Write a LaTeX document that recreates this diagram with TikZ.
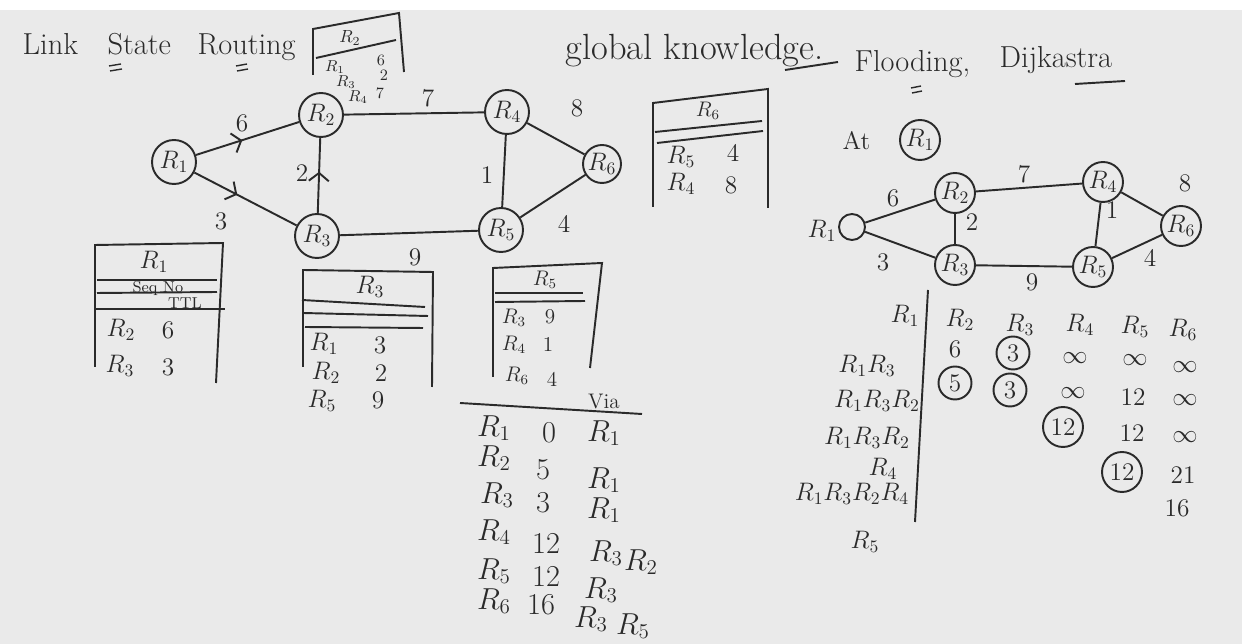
\documentclass[tikz,border=0pt]{standalone}
\usetikzlibrary{arrows.meta, decorations.markings}
\definecolor{ink}{HTML}{2A2A2A}
\definecolor{board}{HTML}{EAEAEA}

\begin{document}
\begin{tikzpicture}[
    x=0.02cm, y=-0.02cm,
    line width=1.1pt,
    wire/.style={draw=ink},
    router/.style={circle, draw=ink, minimum size=0.88cm, inner sep=0pt, text=ink, font=\Large},
    hand/.style={text=ink, inner sep=1pt, font=\Large},
    tiny/.style={text=ink, inner sep=1pt, font=\normalsize},
    ring/.style={circle, draw=ink, minimum size=0.66cm, inner sep=1pt, text=ink, font=\Large},
    midarrow/.style={postaction={decorate}, decoration={markings,
        mark=at position #1 with {\arrow{Straight Barb[length=1.6mm, width=4mm]}}}}
  ]

  % board
  \useasboundingbox (0,0) rectangle (1242,644);
  \fill[white] (0,0) rectangle (1242,10);
  \fill[board] (0,10) rectangle (1242,644);

  % title
  \node[hand, font=\LARGE, anchor=base west] (link) at (20,55) {Link};
  \node[hand, font=\LARGE, anchor=base west] (state) at (105,55) {State};
  \node[hand, font=\LARGE, anchor=base west] (routing) at (195,55) {Routing};
  \draw[wire, line width=0.8pt] (109,66) -- (121,64) (110,71) -- (122,69);
  \draw[wire, line width=0.8pt] (236,66) -- (247,64) (237,71) -- (248,69);

  % table of R2
  \draw[wire] (313,75) -- (313,29) -- (399,13) -- (404,72);
  \draw[wire] (316,58) -- (396,40);
  \node[tiny] (t2h) at (350,38) {$R_2$};
  \node[tiny, font=\small] (t2a) at (335,67) {$R_1$};
  \node[tiny, font=\small] (t2av) at (381,60) {6};
  \node[tiny, font=\small] (t2b) at (346,82) {$R_3$};
  \node[tiny, font=\small] (t2bv) at (384,75) {2};
  \node[tiny, font=\small] (t2c) at (358,97) {$R_4$};
  \node[tiny, font=\small] (t2cv) at (380,93) {7};

  % routers
  \node[router] (r1) at (174,162) {$R_1$};
  \node[router] (r2) at (321,115) {$R_2$};
  \node[router] (r3) at (317,236) {$R_3$};
  \node[router] (r4) at (507,112) {$R_4$};
  \node[router] (r5) at (501,230) {$R_5$};
  \node[router, minimum size=0.76cm] (r6) at (602,164) {$R_6$};

  % links
  \draw[wire, midarrow=0.45] (r1) -- (r2);
  \draw[wire, midarrow=0.42] (r1) -- (r3);
  \draw[wire, midarrow=0.55] (r3) -- (r2);
  \draw[wire] (r2) -- (r4);
  \draw[wire] (r4) -- (r5);
  \draw[wire] (r4) -- (r6);
  \draw[wire] (r5) -- (r6);
  \draw[wire] (r3) -- (r5);

  % costs
  \node[hand] (w12) at (242,123) {6};
  \node[hand] (w13) at (221,221) {3};
  \node[hand] (w32) at (302,173) {2};
  \node[hand] (w24) at (428,98) {7};
  \node[hand] (w45) at (487,175) {1};
  \node[hand] (w46) at (577,108) {8};
  \node[hand] (w56) at (564,224) {4};
  \node[hand] (w35) at (415,257) {9};

  % table of R6
  \draw[wire] (653,207) -- (653,103) -- (768,89) -- (768,208);
  \draw[wire] (655,132) -- (762,121);
  \draw[wire] (657,143) -- (763,131);
  \node[tiny, font=\large] (t6h) at (708,111) {$R_6$};
  \node[hand] (t6a) at (681,157) {$R_5$};
  \node[hand] (t6av) at (733,153) {4};
  \node[hand] (t6b) at (681,184) {$R_4$};
  \node[hand] (t6bv) at (731,185) {8};

  % table of R1
  \draw[wire] (95,367) -- (95,245) -- (223,243) -- (216,383);
  \draw[wire] (97,280) -- (217,280);
  \draw[wire] (97,293) -- (217,292);
  \draw[wire] (95,309) -- (225,309);
  \node[hand] (t1h) at (154,262) {$R_1$};
  \node[tiny, font=\small] (t1s) at (158,288) {Seq No};
  \node[tiny, font=\small] (t1t) at (185,303) {TTL};
  \node[hand] (t1a) at (121,330) {$R_2$};
  \node[hand] (t1av) at (168,330) {6};
  \node[hand] (t1b) at (120,366) {$R_3$};
  \node[hand] (t1bv) at (168,367) {3};

  % table of R3
  \draw[wire] (303,367) -- (303,270) -- (433,272) -- (432,387);
  \draw[wire] (302,300) -- (425,307);
  \draw[wire] (303,313) -- (428,316);
  \draw[wire] (305,327) -- (423,328);
  \node[hand] (t3h) at (370,287) {$R_3$};
  \node[hand] (t3a) at (324,344) {$R_1$};
  \node[hand] (t3av) at (380,345) {3};
  \node[hand] (t3b) at (326,373) {$R_2$};
  \node[hand] (t3bv) at (381,373) {2};
  \node[hand] (t3c) at (322,401) {$R_5$};
  \node[hand] (t3cv) at (378,400) {9};

  % table of R5
  \draw[wire] (493,377) -- (493,268) -- (602,263) -- (590,368);
  \draw[wire] (495,293) -- (583,293);
  \draw[wire] (495,302) -- (585,301);
  \node[tiny, font=\large] (t5h) at (545,280) {$R_5$};
  \node[tiny, font=\large] (t5a) at (514,318) {$R_3$};
  \node[tiny, font=\large] (t5av) at (550,317) {9};
  \node[tiny, font=\large] (t5b) at (514,345) {$R_4$};
  \node[tiny, font=\large] (t5bv) at (548,344) {1};
  \node[tiny, font=\large] (t5c) at (517,376) {$R_6$};
  \node[tiny, font=\large] (t5cv) at (552,379) {4};

  % routing table of R1
  \draw[wire] (460,403) -- (642,414);
  \node[tiny, font=\large] (via) at (604,402) {Via};
  \node[hand, font=\LARGE] (f1) at (494,428) {$R_1$};
  \node[hand, font=\LARGE] (f1c) at (549,433) {0};
  \node[hand, font=\LARGE] (f1v) at (604,433) {$R_1$};
  \node[hand, font=\LARGE] (f2) at (494,458) {$R_2$};
  \node[hand, font=\LARGE] (f2c) at (543,470) {5};
  \node[hand, font=\LARGE] (f2v) at (604,480) {$R_1$};
  \node[hand, font=\LARGE] (f3) at (497,495) {$R_3$};
  \node[hand, font=\LARGE] (f3c) at (543,503) {3};
  \node[hand, font=\LARGE] (f3v) at (604,510) {$R_1$};
  \node[hand, font=\LARGE] (f4) at (494,532) {$R_4$};
  \node[hand, font=\LARGE] (f4c) at (546,543) {12};
  \node[hand, font=\LARGE] (f4v) at (606,553) {$R_3$};
  \node[hand, font=\LARGE] (f4w) at (641,562) {$R_2$};
  \node[hand, font=\LARGE] (f5) at (494,571) {$R_5$};
  \node[hand, font=\LARGE] (f5c) at (546,576) {12};
  \node[hand, font=\LARGE] (f5v) at (601,590) {$R_3$};
  \node[hand, font=\LARGE] (f6) at (494,601) {$R_6$};
  \node[hand, font=\LARGE] (f6c) at (541,605) {16};
  \node[hand, font=\LARGE] (f6v) at (591,619) {$R_3$};
  \node[hand, font=\LARGE] (f6w) at (633,626) {$R_5$};

  % global knowledge
  \node[hand, font=\huge, anchor=base west] (global) at (563,60) {global knowledge.};
  \draw[wire] (785,70) -- (838,62);
  \node[hand, font=\LARGE, anchor=base west] (flood) at (852,72) {Flooding,};
  \node[hand, font=\LARGE, anchor=base west] (dijk) at (997,68) {Dijkastra};
  \draw[wire, line width=0.8pt] (911,88) -- (921,86) (912,93) -- (922,91);
  \draw[wire] (1075,84) -- (1125,81);

  % at R1
  \node[hand, anchor=base west] (at) at (840,150) {At};
  \node[router, minimum size=0.8cm] (atr1) at (920,140) {$R_1$};

  % second graph
  \node[circle, draw=ink, minimum size=0.52cm] (q1) at (852,227) {};
  \node[hand] (q1l) at (822,231) {$R_1$};
  \node[router, minimum size=0.8cm] (q2) at (955,193) {$R_2$};
  \node[router, minimum size=0.8cm] (q3) at (955,265) {$R_3$};
  \node[router, minimum size=0.8cm] (q4) at (1103,182) {$R_4$};
  \node[router, minimum size=0.8cm] (q5) at (1093,267) {$R_5$};
  \node[router, minimum size=0.8cm] (q6) at (1181,226) {$R_6$};
  \draw[wire] (q1) -- (q2);
  \draw[wire] (q1) -- (q3);
  \draw[wire] (q2) -- (q3);
  \draw[wire] (q2) -- (q4);
  \draw[wire] (q3) -- (q5);
  \draw[wire] (q4) -- (q5);
  \draw[wire] (q4) -- (q6);
  \draw[wire] (q5) -- (q6);
  \node[hand] (v12) at (893,198) {6};
  \node[hand] (v13) at (883,262) {3};
  \node[hand] (v23) at (972,222) {2};
  \node[hand] (v24) at (1024,174) {7};
  \node[hand] (v45) at (1112,210) {1};
  \node[hand] (v46) at (1185,183) {8};
  \node[hand] (v56) at (1150,258) {4};
  \node[hand] (v35) at (1032,282) {9};

  % Dijkstra table
  \draw[wire] (928,290) -- (915,522);
  \node[hand] (d0) at (905,316) {$R_1$};
  \node[hand] (d1) at (867,366) {$R_1R_3$};
  \node[hand] (d2) at (877,401) {$R_1R_3R_2$};
  \node[hand] (d3) at (867,438) {$R_1R_3R_2$};
  \node[hand] (d4) at (883,469) {$R_4$};
  \node[hand] (d5) at (852,494) {$R_1R_3R_2R_4$};
  \node[hand] (d6) at (865,542) {$R_5$};
  \node[hand] (c2) at (960,320) {$R_2$};
  \node[hand] (c3) at (1020,325) {$R_3$};
  \node[hand] (c4) at (1080,325) {$R_4$};
  \node[hand] (c5) at (1135,327) {$R_5$};
  \node[hand] (c6) at (1183,330) {$R_6$};
  \node[hand] (e12) at (955,349) {6};
  \node[ring] (e13) at (1013,353) {3};
  \node[hand] (e14) at (1075,358) {$\infty$};
  \node[hand] (e15) at (1135,360) {$\infty$};
  \node[hand] (e16) at (1185,367) {$\infty$};
  \node[ring] (e22) at (955,383) {5};
  \node[ring] (e23) at (1010,390) {3};
  \node[hand] (e24) at (1073,393) {$\infty$};
  \node[hand] (e25) at (1133,397) {12};
  \node[hand] (e26) at (1185,400) {$\infty$};
  \node[ring, minimum size=0.8cm] (e34) at (1063,427) {12};
  \node[hand] (e35) at (1132,433) {12};
  \node[hand] (e36) at (1185,437) {$\infty$};
  \node[ring, minimum size=0.8cm] (e45) at (1122,472) {12};
  \node[hand] (e46) at (1183,475) {21};
  \node[hand] (e56) at (1177,508) {16};

\end{tikzpicture}
\end{document}
